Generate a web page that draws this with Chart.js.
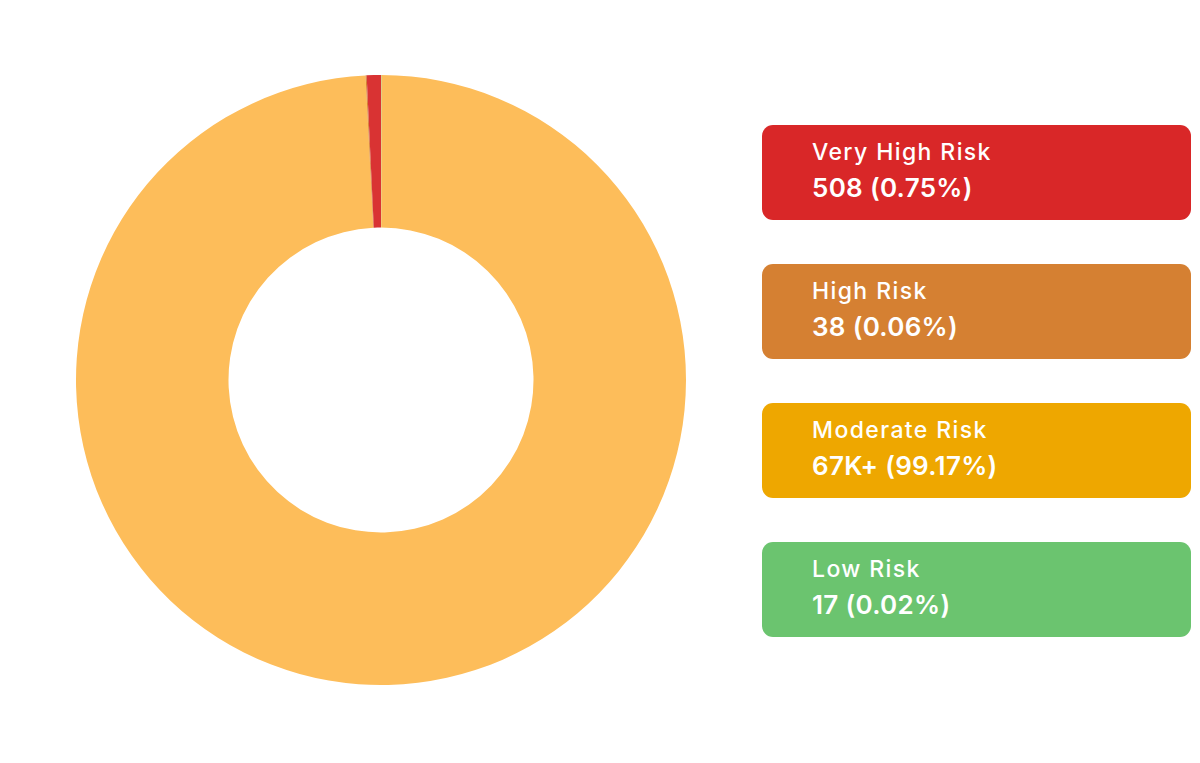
<!DOCTYPE html>
<html>
<head>
<meta charset="utf-8">
<script src="https://cdn.jsdelivr.net/npm/chart.js@4"></script>
<style>
  html, body { margin: 0; padding: 0; background: #fff; width: 1200px; height: 763px; overflow: hidden; }
  #wrap { position: absolute; left: 76px; top: 75px; width: 610px; height: 610px; }
  .card { position: absolute; left: 762px; width: 429px; height: 95px; border-radius: 11px; color: #fff; font-family: Inter, "Open Sans", sans-serif; }
  .card .t { position: absolute; left: 50px; top: 12px; font-size: 23px; font-weight: 500; line-height: 30px; letter-spacing: 1.4px; white-space: nowrap; }
  .card .v { position: absolute; left: 50px; top: 45px; font-size: 26px; font-weight: 600; line-height: 36px; letter-spacing: 0.3px; white-space: nowrap; }
</style>
</head>
<body>
<div id="wrap"><canvas id="donut"></canvas></div>
<div id="legend"></div>
<script>
// legend order, top to bottom
const labels = ['Very High Risk', 'High Risk', 'Moderate Risk', 'Low Risk'];
const counts = [508, 38, 67200, 17];
const countText = ['508', '38', '67K+', '17'];
const pctText = ['0.75%', '0.06%', '99.17%', '0.02%'];
const cardColors = ['#d92728', '#d58032', '#eea700', '#6bc46f'];
const ringColors = ['#d93333', '#d58032', '#fdbd5a', '#6bc46f'];
const cardTops = [125, 264, 403, 542];

// cards
const legend = document.getElementById('legend');
labels.forEach((l, i) => {
  const d = document.createElement('div');
  d.className = 'card';
  d.style.top = cardTops[i] + 'px';
  d.style.background = cardColors[i];
  d.innerHTML = `<div class="t">${l}</div><div class="v">${countText[i]} (${pctText[i]})</div>`;
  legend.appendChild(d);
});

// ring is drawn bottom-up so Very High ends right at 12 o'clock
const ringOrder = [3, 2, 1, 0];

new Chart(document.getElementById('donut'), {
  type: 'doughnut',
  data: {
    labels: ringOrder.map((i) => labels[i]),
    datasets: [{
      data: ringOrder.map((i) => counts[i]),
      backgroundColor: ringOrder.map((i) => ringColors[i]),
      borderWidth: 0,
    }],
  },
  options: {
    responsive: true,
    maintainAspectRatio: false,
    animation: false,
    cutout: '50%',
    plugins: { legend: { display: false }, tooltip: { enabled: false } },
  },
});
</script>
</body>
</html>
